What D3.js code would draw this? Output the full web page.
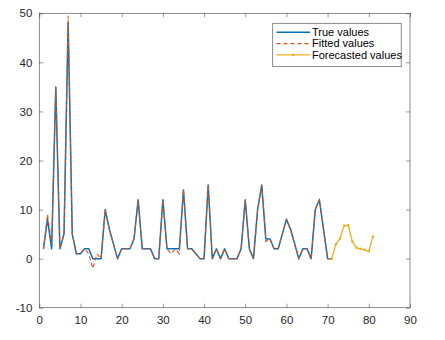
<!DOCTYPE html>
<html>
<head>
<meta charset="utf-8">
<script src="https://cdn.jsdelivr.net/npm/d3@7"></script>
<style>
  html, body { margin: 0; padding: 0; background: #fff; }
  svg { display: block; }
  text { font-family: "Liberation Sans", Arial, sans-serif; }
</style>
</head>
<body>
<svg id="chart" width="445" height="340"></svg>
<script>
// ---- data ----
const trueX = d3.range(1, 72);
const trueValues = [2, 8, 2, 35, 2, 5, 48, 5, 1, 1,
  2, 2, 0, 0, 0, 10, 6, 3, 0, 2,
  2, 2, 4, 12, 2, 2, 2, 0, 0, 12,
  2, 2, 2, 2, 14, 2, 2, 1, 0, 0,
  15, 0, 2, 0, 2, 0, 0, 0, 2, 12,
  2, 0, 10, 15, 4, 4, 2, 2, 5, 8,
  6, 3, 0, 2, 2, 0, 10, 12, 6, 0,
  0];
const fittedValues = [2, 9, 3, 35, 2, 5, 49.5, 5, 1, 1,
  2, 1, -2, 1, 0, 10, 6, 3, 0, 2,
  2, 2, 4, 12, 2, 2, 2, 0, 0, 12,
  2, 1, 2, 1, 14, 2, 2, 1, 0, 0,
  15, 0, 2, 0, 2, 0, 0, 0, 2, 12,
  2, 0, 10, 15, 3.5, 4, 2, 2, 5, 8,
  6, 3, 0, 2, 2, 0, 10, 12, 6, 0,
  0];
const forecastX = d3.range(71, 82);
const forecastValues = [0, 2.9, 4.1, 6.7, 6.8, 3.5, 2.2, 2.0, 1.8, 1.5, 4.5];
const xTicks = [0, 10, 20, 30, 40, 50, 60, 70, 80, 90];
const yTicks = [-10, 0, 10, 20, 30, 40, 50];
const legendLabels = ["True values", "Fitted values", "Forecasted values"];

// ---- layout ----
const svg = d3.select("#chart");
const pLeft = 39.3, pRight = 410, pTop = 13.3, pBottom = 307.7;
const x = d3.scaleLinear().domain([0, 90]).range([pLeft, pRight]);
const y = d3.scaleLinear().domain([-10, 50]).range([pBottom, pTop]);
const axisColor = "#262626";
const colors = ["#0072BD", "#D95319", "#EDB120"];
const fmt = d => String(d);

// axes
const tickLen = 4;
const gx = svg.append("g").attr("transform", `translate(0,${pBottom})`)
  .call(d3.axisBottom(x).tickValues(xTicks).tickFormat(fmt).tickSizeInner(-tickLen).tickSizeOuter(0).tickPadding(8));
const gy = svg.append("g").attr("transform", `translate(${pLeft},0)`)
  .call(d3.axisLeft(y).tickValues(yTicks).tickFormat(fmt).tickSizeInner(-tickLen).tickSizeOuter(0).tickPadding(7));
const gxt = svg.append("g").attr("transform", `translate(0,${pTop})`)
  .call(d3.axisTop(x).tickValues(xTicks).tickSizeInner(-tickLen).tickSizeOuter(0).tickFormat(""));
const gyr = svg.append("g").attr("transform", `translate(${pRight},0)`)
  .call(d3.axisRight(y).tickValues(yTicks).tickSizeInner(-tickLen).tickSizeOuter(0).tickFormat(""));
[gx, gy, gxt, gyr].forEach(g => {
  g.select(".domain").remove();
  g.selectAll("line").attr("stroke", axisColor).attr("stroke-width", 0.6).attr("stroke-opacity", 0.75);
  g.selectAll("text").attr("fill", axisColor).style("font-size", "11.5px");
});

svg.append("rect").attr("x", pLeft).attr("y", pTop)
  .attr("width", pRight - pLeft).attr("height", pBottom - pTop)
  .attr("fill", "none").attr("stroke", axisColor).attr("stroke-opacity", 0.75).attr("stroke-width", 0.7);

// lines
const line = d3.line().x(d => x(d[0])).y(d => y(d[1]));
const trueData = trueX.map((d, i) => [d, trueValues[i]]);
const fitData = trueX.map((d, i) => [d, fittedValues[i]]);
const fcData = forecastX.map((d, i) => [d, forecastValues[i]]);

svg.append("path").datum(trueData).attr("d", line)
  .attr("fill", "none").attr("stroke", colors[0]).attr("stroke-width", 1.5).attr("stroke-linejoin", "round");
svg.append("path").datum(fitData).attr("d", line)
  .attr("fill", "none").attr("stroke", colors[1]).attr("stroke-width", 1.1)
  .attr("stroke-dasharray", "4,3");
svg.append("path").datum(fcData).attr("d", line)
  .attr("fill", "none").attr("stroke", colors[2]).attr("stroke-width", 1.3);
svg.selectAll(".fcdot").data(fcData).enter().append("circle")
  .attr("cx", d => x(d[0])).attr("cy", d => y(d[1])).attr("r", 1.3)
  .attr("fill", colors[2]);

// legend
const lg = svg.append("g");
lg.append("rect").attr("x", 272.7).attr("y", 23.3).attr("width", 128.5).attr("height", 43.4)
  .attr("fill", "#fff").attr("stroke", axisColor).attr("stroke-opacity", 0.75).attr("stroke-width", 0.7);
const rowsY = [32.3, 43.6, 54.9];
legendLabels.forEach((lab, i) => {
  const ly = rowsY[i];
  const ln = lg.append("line").attr("x1", 276.5).attr("x2", 310).attr("y1", ly).attr("y2", ly)
    .attr("stroke", colors[i]).attr("stroke-width", i === 0 ? 1.5 : 1.2);
  if (i === 1) ln.attr("stroke-dasharray", "4,3");
  if (i === 2) lg.append("circle").attr("cx", 293.2).attr("cy", ly).attr("r", 1.3).attr("fill", colors[2]);
  lg.append("text").attr("x", 312).attr("y", ly).attr("dy", "0.35em")
    .style("font-size", "11px").attr("fill", "#000").text(lab);
});
</script>
</body>
</html>
